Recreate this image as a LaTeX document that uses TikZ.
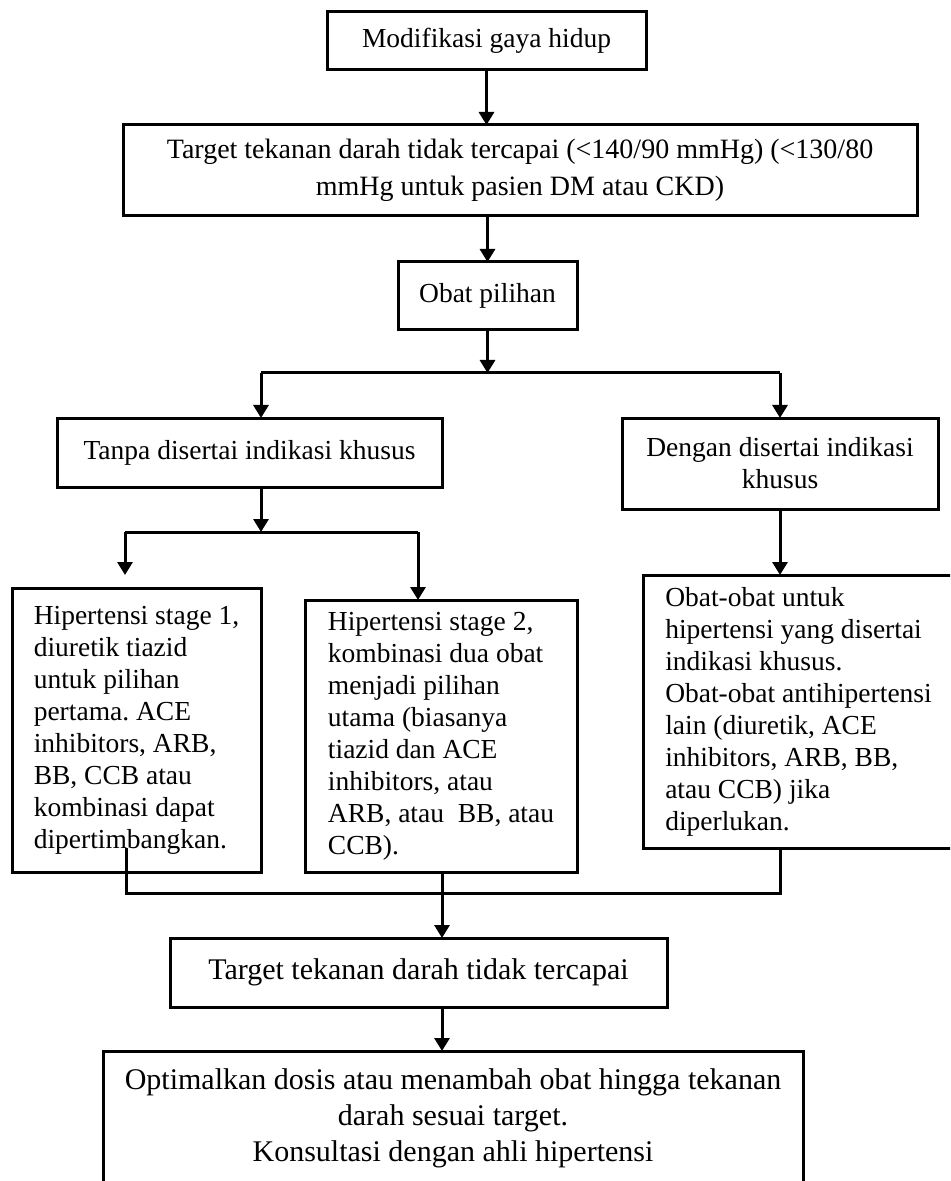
\documentclass[tikz,border=0pt]{standalone}
\usepackage{fontspec}
\setmainfont{Liberation Serif}
\usetikzlibrary{arrows.meta}
\frenchspacing
\newcommand\fA{\fontsize{13.75pt}{16pt}\selectfont}
\newcommand\fB{\fontsize{14pt}{18.5pt}\selectfont}
\newcommand\fC{\fontsize{15pt}{18pt}\selectfont}
\begin{document}
\frenchspacing
\begin{tikzpicture}[x=0.5pt,y=-0.5pt,
  box/.style={draw, line width=1.5pt, inner ysep=0pt, inner xsep=0pt, outer sep=0pt, font=\fA, align=center, anchor=north west},
  lbox/.style={box, align=left},
  ln/.style={line width=1.5pt},
  arr/.style={ln, -{Triangle[length=6.5pt,width=7.5pt]}}
]
\useasboundingbox (0,0) rectangle (950,1181);
\clip (0,0) rectangle (950,1181);
\node[box, minimum width=159.5pt, minimum height=29pt] (b1) at (327,12) {Modifikasi gaya hidup};
\node[box, font=\fB, minimum width=397pt, minimum height=45.5pt] (b2) at (123,125) {Target tekanan darah tidak tercapai (<140/90 mmHg) (<130/80\\ mmHg untuk pasien DM atau CKD)};
\node[box, minimum width=89.5pt, minimum height=34pt] (b3) at (398,262) {Obat pilihan};
\node[box, minimum width=192.5pt, minimum height=34.5pt] (b4) at (57,418) {Tanpa disertai indikasi khusus};
\node[box, minimum width=158pt, minimum height=45.5pt] (b5) at (622,418) {Dengan disertai indikasi\\ khusus};
\node[lbox, minimum width=124.5pt, minimum height=142pt] (b6) at (12,588) {Hipertensi stage 1,\\ diuretik tiazid\\ untuk pilihan\\ pertama. ACE\\ inhibitors, ARB,\\ BB, CCB atau\\ kombinasi dapat\\ dipertimbangkan.};
\node[lbox, minimum width=136pt, minimum height=136pt] (b7) at (305,600) {Hipertensi stage 2,\\ kombinasi dua obat\\ menjadi pilihan\\ utama (biasanya\\ tiazid dan ACE\\ inhibitors, atau\\ ARB, atau\ \ BB, atau\\ CCB).};
\node[lbox, minimum width=155.5pt, minimum height=136.5pt] (b8) at (643,575) {Obat-obat untuk\\ hipertensi yang disertai\\ indikasi khusus.\\ Obat-obat antihipertensi\\ lain (diuretik, ACE\\ inhibitors, ARB, BB,\\ atau CCB) jika\\ diperlukan.};
\node[box, font=\fC, minimum width=248.5pt, minimum height=34.5pt] (b9) at (170,938) {Target tekanan darah tidak tercapai};
\node[box, font=\fC, minimum width=350pt, minimum height=67pt] (b10) at (103,1051) {Optimalkan dosis atau menambah obat hingga tekanan\\ darah sesuai target.\\ Konsultasi dengan ahli hipertensi};
\coordinate (j1) at (486,373);
\coordinate (j1l) at (261,373);
\coordinate (j1r) at (780,373);
\coordinate (j2) at (261,532);
\coordinate (j2l) at (125,532);
\coordinate (j2r) at (418,532);
\coordinate (t6) at (125,575);
\coordinate (s6) at (126,848);
\coordinate (j3l) at (126,893);
\coordinate (j3m) at (442,893);
\coordinate (j3r) at (780,893);
\draw[arr] (b1.south) -- (b1.south |- b2.north);
\draw[arr] (b3.north |- b2.south) -- (b3.north);
\draw[arr] (b3.south) -- (b3.south |- j1);
\draw[ln] (j1l) -- (j1r);
\draw[arr] (j1l) -- (j1l |- b4.north);
\draw[arr] (j1r) -- (j1r |- b5.north);
\draw[arr] (j1l |- b4.south) -- (j2);
\draw[ln] (j2l) -- (j2r);
\draw[arr] (j2l) -- (t6);
\draw[arr] (j2r) -- (j2r |- b7.north);
\draw[arr] (j1r |- b5.south) -- (j1r |- b8.north);
\draw[ln] (s6) -- (j3l) -- (j3r) -- (j3r |- b8.south);
\draw[arr] (j3m |- b7.south) -- (j3m |- b9.north);
\draw[arr] (j3m |- b9.south) -- (j3m |- b10.north);
\end{tikzpicture}
\end{document}
